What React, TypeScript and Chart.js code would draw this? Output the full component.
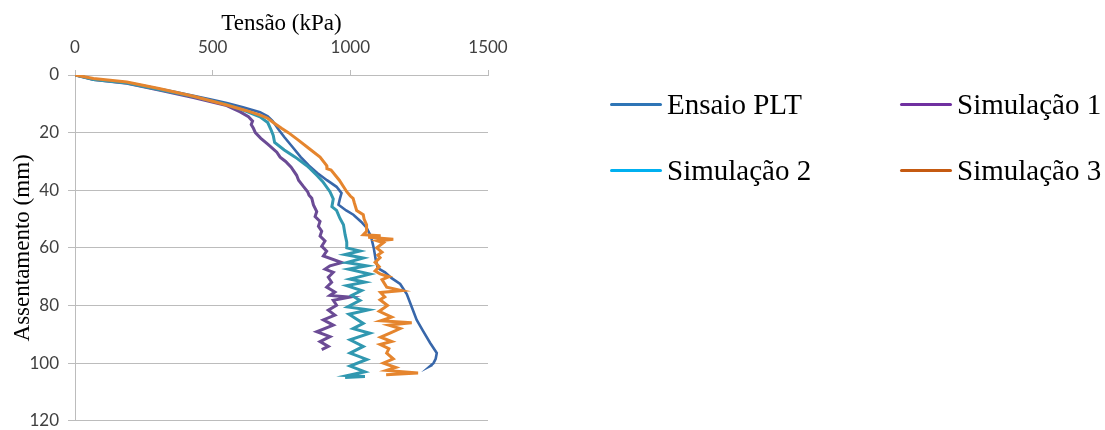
import React, { useEffect, useRef } from "react";
import { Chart, registerables } from "chart.js";

Chart.register(...registerables);

// Ensaio PLT: tensão (kPa) x assentamento (mm)
const pltTensao = [0, 30, 67, 120, 188, 250, 309, 370, 430, 490, 551, 610, 672, 700, 718, 740, 760, 790, 820, 850, 880, 915, 950, 968, 962, 957, 985, 1011, 1040, 1059, 1075, 1085, 1092, 1100, 1126, 1150, 1181, 1205, 1223, 1241, 1265, 1290, 1314, 1310, 1302, 1290, 1298];
const pltAssent = [0, 0.6, 1.5, 2.0, 2.6, 3.7, 4.9, 6.0, 7.2, 8.4, 9.7, 11.2, 12.9, 14.3, 16, 19, 21.5, 25, 28.5, 31.5, 34, 36.5, 38.8, 41, 43, 45, 47, 48.5, 51, 53, 56, 60, 64, 67, 68.5, 70.5, 72.5, 76, 80.5, 85, 89, 93, 96.5, 98.5, 100, 101, 100.6];

// Simulação 1
const sim1Tensao = [0, 67, 188, 309, 430, 551, 600, 630, 645, 640, 648, 655, 675, 700, 733, 745, 765, 785, 805, 812, 828, 845, 850, 860, 866, 878, 872, 890, 884, 896, 890, 908, 896, 914, 902, 969, 926, 908, 938, 920, 932, 914, 944, 926, 999, 938, 950, 920, 944, 902, 938, 878, 926, 890, 920, 896];
const sim1Assent = [0, 1.6, 2.9, 5.3, 7.8, 10.6, 12.8, 14.5, 16, 17.2, 18.5, 20, 22, 24, 26.8, 28.5, 30, 32, 34.8, 36.5, 38.5, 40.5, 41.7, 42.8, 45.1, 47.4, 49.1, 50.8, 52.5, 54.2, 55.9, 57.6, 59.4, 61.1, 62.8, 65.1, 66.2, 67.4, 68.5, 70.2, 71.9, 73.6, 75.3, 76.5, 77.1, 78.2, 79.9, 81.6, 83.3, 85, 86.8, 89.1, 90.8, 92.5, 94.2, 95.3];

// Simulação 2
const sim2Tensao = [0, 67, 188, 309, 430, 551, 620, 672, 700, 712, 720, 725, 760, 800, 841, 854, 878, 900, 926, 938, 933, 950, 962, 975, 981, 987, 987, 1035, 981, 1047, 987, 1059, 993, 1071, 999, 1053, 987, 1041, 1005, 1035, 990, 1065, 995, 1047, 1010, 1071, 999, 1047, 999, 1060, 999, 1053, 990, 1053, 981];
const sim2Assent = [0, 1.6, 2.8, 5.1, 7.5, 10.2, 12.5, 14.5, 16.5, 19, 21, 23.4, 26, 28.5, 31.4, 32.5, 34.8, 37, 40.5, 43, 45.7, 47, 49.7, 52, 55.4, 58, 60, 61.1, 62.3, 63.5, 65.1, 66.2, 67.4, 69.1, 70.8, 71.9, 73.1, 74.8, 76.5, 78.2, 80.5, 81.5, 83, 86.2, 88, 89.6, 91.9, 94.2, 96.5, 98.7, 101, 103, 104.3, 104.6, 105];

// Simulação 3
const sim3Tensao = [0, 67, 188, 309, 430, 551, 620, 672, 700, 720, 750, 775, 810, 850, 890, 914, 915, 930, 960, 987, 1000, 1010, 1015, 1023, 1047, 1050, 1059, 1059, 1047, 1110, 1065, 1156, 1100, 1120, 1096, 1115, 1100, 1108, 1090, 1105, 1090, 1108, 1140, 1115, 1132, 1187, 1110, 1125, 1108, 1135, 1105, 1150, 1110, 1223, 1140, 1181, 1144, 1110, 1150, 1108, 1140, 1132, 1156, 1120, 1165, 1132, 1246, 1130];
const sim3Assent = [0, 1.2, 2.4, 4.8, 7.4, 10.4, 12.3, 13.9, 15, 16.5, 18.5, 20, 22.5, 25.5, 28.5, 31.4, 32.5, 33, 36.5, 40.5, 42, 42.8, 44.5, 47, 48.5, 50, 52, 54.2, 55.4, 55.8, 56.3, 57, 57.6, 58.2, 60, 61.5, 62.5, 63.4, 65, 66.5, 68, 69, 70, 71, 73.6, 74.8, 75.5, 77, 78, 80, 82, 84, 85.3, 86, 86.8, 88, 89.6, 91, 92.5, 93.5, 95, 96.5, 98.5, 100, 101.5, 102.5, 103.4, 104];

const xTickValues = [0, 500, 1000, 1500];
const yTickValues = [0, 20, 40, 60, 80, 100, 120];

const seriesNames = ["Ensaio PLT", "Simulação 1", "Simulação 2", "Simulação 3"];
const lineColors = ["#3867AA", "#6B4B95", "#3198B0", "#E5852E"];
const legendColors = ["#2E75B6", "#7030A0", "#00B0F0", "#C55A11"];

const GRID = "#bcbcbc";
const TICK_FONT = { family: "Lato", size: 17 };
const TITLE_FONT = { family: "Liberation Serif", size: 23 };

function toPoints(xs: number[], ys: number[]) {
  return xs.map((x, i) => ({ x, y: ys[i] }));
}

export default function App() {
  const canvasRef = useRef<HTMLCanvasElement>(null);

  useEffect(() => {
    document.body.style.margin = "0";
    const series = [
      [pltTensao, pltAssent],
      [sim1Tensao, sim1Assent],
      [sim2Tensao, sim2Assent],
      [sim3Tensao, sim3Assent],
    ];
    const chart = new Chart(canvasRef.current!, {
      type: "scatter",
      data: {
        datasets: series.map(([xs, ys], i) => ({
          label: seriesNames[i],
          data: toPoints(xs, ys),
          showLine: true,
          borderColor: lineColors[i],
          backgroundColor: lineColors[i],
          borderWidth: i === 0 ? 2.6 : 3,
          pointRadius: 0,
          tension: 0,
          order: 3 - i,
        })),
      },
      options: {
        responsive: false,
        animation: false,
        layout: { padding: { left: 0, top: 0, right: 617, bottom: 15 } },
        plugins: { legend: { display: false }, tooltip: { enabled: false } },
        scales: {
          x: {
            type: "linear",
            position: "top",
            min: 0,
            max: 1500,
            afterBuildTicks: (s: any) => {
              s.ticks = xTickValues.map((v) => ({ value: v }));
            },
            afterFit: (s: any) => {
              s.height = 75;
            },
            ticks: {
              font: TICK_FONT,
              color: "#404040",
              padding: 12,
              callback: (v: any) => String(v),
            },
            grid: { drawOnChartArea: false, color: GRID, tickLength: 5 },
            border: { color: GRID },
            title: {
              display: true,
              text: "Tensão (kPa)",
              font: TITLE_FONT,
              color: "#000",
              padding: { top: 10, bottom: 0 },
            },
          },
          y: {
            type: "linear",
            reverse: true,
            min: 0,
            max: 120,
            afterBuildTicks: (s: any) => {
              s.ticks = yTickValues.map((v) => ({ value: v }));
            },
            afterFit: (s: any) => {
              s.width = 75;
            },
            ticks: {
              font: TICK_FONT,
              color: "#404040",
              padding: 9,
              callback: (v: any) => String(v),
            },
            grid: { color: GRID, tickLength: 7 },
            border: { color: GRID },
            title: {
              display: true,
              text: "Assentamento (mm)",
              font: TITLE_FONT,
              color: "#000",
              padding: { top: 9, bottom: 0 },
            },
          },
        },
      },
    } as any);
    return () => chart.destroy();
  }, []);

  const legendPos = [
    { left: 610, top: 90 },
    { left: 900, top: 90 },
    { left: 610, top: 156 },
    { left: 900, top: 156 },
  ];

  return (
    <div style={{ position: "relative", width: 1105, height: 430, overflow: "hidden" }}>
      <canvas ref={canvasRef} width={1105} height={440} style={{ display: "block", width: 1105, height: 440 }} />
      {seriesNames.map((name, i) => (
        <div
          key={name}
          style={{
            position: "absolute",
            left: legendPos[i].left,
            top: legendPos[i].top,
            height: 28,
            display: "flex",
            alignItems: "center",
            whiteSpace: "nowrap",
            fontFamily: "'Liberation Serif', serif",
            fontSize: 29,
            lineHeight: "28px",
            color: "#000",
          }}
        >
          <span
            style={{
              display: "inline-block",
              width: 52,
              height: 3,
              borderRadius: 1.5,
              background: legendColors[i],
              marginRight: 5,
            }}
          />
          <span>{name}</span>
        </div>
      ))}
    </div>
  );
}
